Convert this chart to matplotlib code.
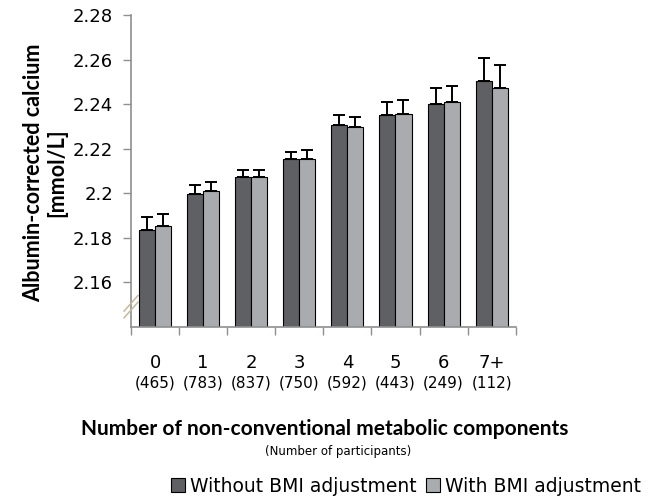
import matplotlib
matplotlib.use("Agg")
import matplotlib.pyplot as plt
import matplotlib.transforms as mtransforms
import numpy as np

# Data
categories = ["0", "1", "2", "3", "4", "5", "6", "7+"]
participants = ["(465)", "(783)", "(837)", "(750)", "(592)", "(443)", "(249)", "(112)"]
without_bmi = [2.1836, 2.1995, 2.2074, 2.2154, 2.2305, 2.2351, 2.2399, 2.2504]
without_err = [0.0057, 0.0040, 0.0032, 0.0033, 0.0048, 0.0057, 0.0073, 0.0103]
with_bmi = [2.1851, 2.2010, 2.2074, 2.2154, 2.2296, 2.2358, 2.2408, 2.2471]
with_err = [0.0057, 0.0040, 0.0032, 0.0040, 0.0048, 0.0059, 0.0072, 0.0105]
y_ticks = [2.16, 2.18, 2.2, 2.22, 2.24, 2.26, 2.28]
y_tick_labels = ["2.16", "2.18", "2.2", "2.22", "2.24", "2.26", "2.28"]

dark = "#5f6064"
light = "#a9abae"
axis_grey = "#8f8f8f"

fig = plt.figure(figsize=(6.63, 4.98), dpi=100)
ax = fig.add_axes([131 / 663, 1 - 326.7 / 498, (515.7 - 131) / 663, (326.7 - 15.3) / 498])

x = np.arange(len(categories))
w = 1 / 3
bottom = 2.14
ax.bar(x - w / 2, np.array(without_bmi) - bottom, w, bottom=bottom, color=dark,
       edgecolor="black", linewidth=0.8, label="Without BMI adjustment", zorder=2)
ax.bar(x + w / 2, np.array(with_bmi) - bottom, w, bottom=bottom, color=light,
       edgecolor="black", linewidth=0.8, label="With BMI adjustment", zorder=2)

# upper error bars only
ax.errorbar(x - w / 2, without_bmi, yerr=[np.zeros(len(x)), without_err], fmt="none",
            ecolor="black", elinewidth=1.4, capsize=4.5, capthick=1.4, zorder=3)
ax.errorbar(x + w / 2, with_bmi, yerr=[np.zeros(len(x)), with_err], fmt="none",
            ecolor="black", elinewidth=1.4, capsize=4.5, capthick=1.4, zorder=3)

ax.set_xlim(-0.5, len(categories) - 0.5)
ax.set_ylim(bottom, 2.28)
ax.set_yticks(y_ticks)
ax.set_yticklabels(y_tick_labels, fontsize=13, family="DejaVu Sans")
ax.set_xticks(np.arange(len(categories) + 1) - 0.5)
ax.set_xticklabels([])
ax.tick_params(axis="x", length=6, width=1, color=axis_grey, direction="out")
ax.tick_params(axis="y", length=6, width=1, color=axis_grey, direction="out", pad=7)

for side in ["top", "right"]:
    ax.spines[side].set_visible(False)
for side in ["left", "bottom"]:
    ax.spines[side].set_color(axis_grey)
    ax.spines[side].set_linewidth(1.2)

# axis break marks
tr = mtransforms.blended_transform_factory(ax.transAxes, ax.transData)
for yb in [2.1475, 2.1505]:
    ax.plot([-0.018, 0.018], [yb - 0.0035, yb + 0.0035], color="#c8b898", lw=1.1,
            transform=tr, clip_on=False, zorder=4)

# category labels and participant counts
lbl_tr = mtransforms.blended_transform_factory(ax.transData, fig.transFigure)
for i in range(len(categories)):
    ax.text(x[i], 1 - 363 / 498, categories[i], transform=lbl_tr, ha="center",
            va="center", fontsize=13, family="DejaVu Sans")
    ax.text(x[i], 1 - 383 / 498, participants[i], transform=lbl_tr, ha="center",
            va="center", fontsize=11, family="DejaVu Sans")

fig.text(325 / 663, 1 - 435 / 498, "Number of non-conventional metabolic components",
         ha="center", va="baseline", fontsize=15, fontweight="bold", family="Lato")
fig.text(338 / 663, 1 - 451 / 498, "(Number of participants)", ha="center", va="center",
         fontsize=8.5, family="DejaVu Sans")
fig.text(45 / 663, 1 - 173 / 498, "Albumin-corrected calcium\n[mmol/L]", rotation=90,
         ha="center", va="center", fontsize=15.5, fontweight="bold", family="Lato",
         linespacing=1.15)

leg = fig.legend(loc="center", bbox_to_anchor=(406 / 663, 1 - 486 / 498), ncol=2,
                 frameon=False, prop={"family": "DejaVu Sans", "size": 13.5},
                 handlelength=0.75, handleheight=0.75, handletextpad=0.25,
                 columnspacing=0.5, borderpad=0, borderaxespad=0)

fig.savefig("out.png", dpi=100)
